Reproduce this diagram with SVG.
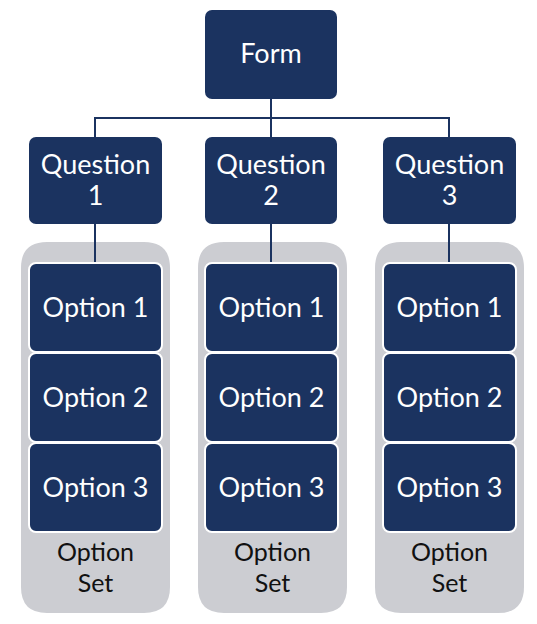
<svg xmlns="http://www.w3.org/2000/svg" width="537" height="624" viewBox="0 0 537 624">
<style>
.node{fill:#1b3360;}
.opt{fill:#1b3360;stroke:#ffffff;stroke-width:2;}
.set{fill:#cccdd2;}
.lbl{font-family:Lato,"Open Sans","Liberation Sans",sans-serif;font-size:27px;fill:#ffffff;text-anchor:middle;}
.dark{fill:#111111;font-size:25px;}
.conn{stroke:#1b3360;stroke-width:2;fill:none;}
</style>
<rect width="537" height="624" fill="#ffffff"/>
<g id="sets">
<path id="set1" class="set" d="M21,268 Q21,242 47,242 L144,242 Q170,242 170,268 L170,587 Q170,613 144,613 L47,613 Q21,613 21,587 Z"/>
<path id="set2" class="set" d="M198,268 Q198,242 224,242 L321,242 Q347,242 347,268 L347,587 Q347,613 321,613 L224,613 Q198,613 198,587 Z"/>
<path id="set3" class="set" d="M375,268 Q375,242 401,242 L498,242 Q524,242 524,268 L524,587 Q524,613 498,613 L401,613 Q375,613 375,587 Z"/>
</g>
<g id="connectors">
<path class="conn" d="M271,99 V118 M95,118 H449 M95,117 V137 M271,118 V137 M449,117 V137"/>
<path class="conn" d="M95,224 V263 M271,224 V263 M449,224 V263"/>
</g>
<g id="form">
<rect class="node" x="205" y="10" width="132" height="89" rx="7"/>
<text class="lbl" x="271" y="63">Form</text>
</g>
<g id="q1">
<rect class="node" x="29" y="137" width="133" height="87" rx="7"/>
<text class="lbl" x="95.5" y="174">Question</text>
<text class="lbl" x="95.5" y="205">1</text>
</g>
<g id="q2">
<rect class="node" x="205" y="137" width="132" height="87" rx="7"/>
<text class="lbl" x="271" y="174">Question</text>
<text class="lbl" x="271" y="205">2</text>
</g>
<g id="q3">
<rect class="node" x="383" y="137" width="133" height="87" rx="7"/>
<text class="lbl" x="449.5" y="174">Question</text>
<text class="lbl" x="449.5" y="205">3</text>
</g>
<g id="c1o1"><rect class="opt" x="29" y="263" width="133" height="89" rx="7"/><text class="lbl" x="95.5" y="317">Option 1</text></g>
<g id="c1o2"><rect class="opt" x="29" y="353" width="133" height="89" rx="7"/><text class="lbl" x="95.5" y="407">Option 2</text></g>
<g id="c1o3"><rect class="opt" x="29" y="443" width="133" height="89" rx="7"/><text class="lbl" x="95.5" y="497">Option 3</text></g>
<g id="c2o1"><rect class="opt" x="205" y="263" width="133" height="89" rx="7"/><text class="lbl" x="271.5" y="317">Option 1</text></g>
<g id="c2o2"><rect class="opt" x="205" y="353" width="133" height="89" rx="7"/><text class="lbl" x="271.5" y="407">Option 2</text></g>
<g id="c2o3"><rect class="opt" x="205" y="443" width="133" height="89" rx="7"/><text class="lbl" x="271.5" y="497">Option 3</text></g>
<g id="c3o1"><rect class="opt" x="383" y="263" width="133" height="89" rx="7"/><text class="lbl" x="449.5" y="317">Option 1</text></g>
<g id="c3o2"><rect class="opt" x="383" y="353" width="133" height="89" rx="7"/><text class="lbl" x="449.5" y="407">Option 2</text></g>
<g id="c3o3"><rect class="opt" x="383" y="443" width="133" height="89" rx="7"/><text class="lbl" x="449.5" y="497">Option 3</text></g>
<g id="setlabels">
<text class="lbl dark" x="95.5" y="561">Option</text><text class="lbl dark" x="95.5" y="592">Set</text>
<text class="lbl dark" x="272.5" y="561">Option</text><text class="lbl dark" x="272.5" y="592">Set</text>
<text class="lbl dark" x="449.5" y="561">Option</text><text class="lbl dark" x="449.5" y="592">Set</text>
</g>
</svg>
